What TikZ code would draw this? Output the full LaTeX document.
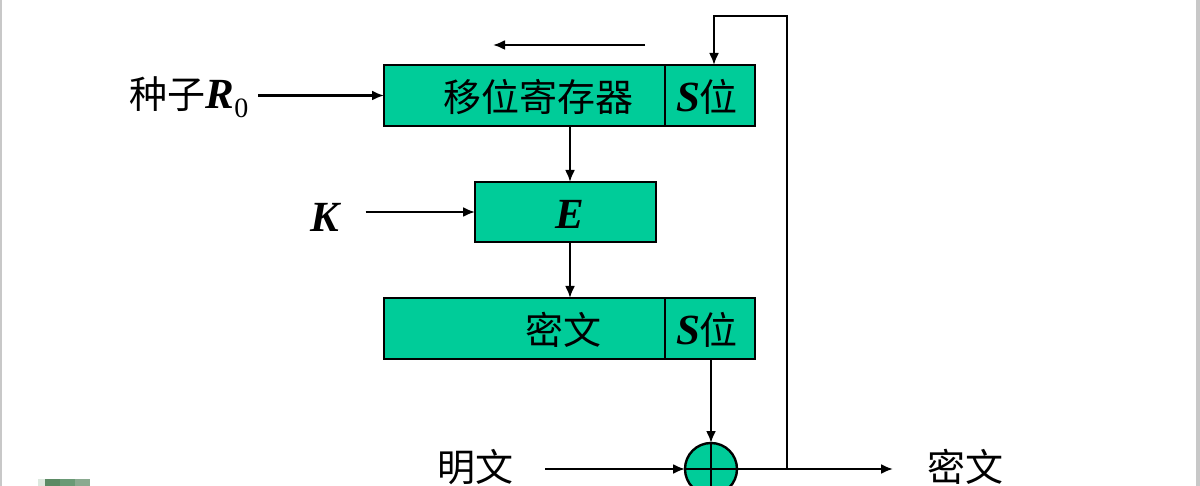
\documentclass[tikz,border=0pt]{standalone}
\usepackage{fontspec}
\setmainfont{Liberation Serif}
\newfontfamily\cjk{Noto Sans CJK SC}
\usetikzlibrary{arrows.meta}
\definecolor{boxgreen}{RGB}{0,204,153}
\definecolor{frameg}{RGB}{200,200,200}
\definecolor{blobA}{RGB}{91,138,100}
\definecolor{blobB}{RGB}{106,154,118}
\definecolor{blobC}{RGB}{138,170,144}
\definecolor{blobD}{RGB}{220,232,222}
\newcommand\latbi[1]{{\fontsize{43}{46}\selectfont\rmfamily\bfseries\itshape #1}}
\begin{document}
\begin{tikzpicture}[x=1pt,y=-1pt,
  box/.style={draw=black,line width=2.6pt,fill=boxgreen,minimum height=61pt,inner sep=0pt,outer sep=0pt},
  lbl/.style={font=\fontsize{38}{42}\selectfont\cjk,inner sep=0pt,outer sep=0pt},
  conn/.style={line width=2.2pt,-{Latex[length=12pt,width=10pt]}},
  wire/.style={line width=2.2pt}]
\useasboundingbox (0,0) rectangle (1200,486);
% screenshot frame
\fill[frameg] (0,0) rectangle (1.5,486);
\fill[frameg] (1196,0) rectangle (1200,486);
\fill[blobD] (38,479) rectangle (45,486);
\fill[blobA] (45,479) rectangle (60,486);
\fill[blobB] (60,479) rectangle (75,486);
\fill[blobC] (75,479) rectangle (90,486);
% boxes
\node[box,minimum width=281pt] (reg) at (524.5,95.5) {};
\node[box,minimum width=90pt] (regS) at (710,95.5) {};
\node[box,minimum width=181pt,minimum height=60pt] (E) at (565.5,212) {};
\node[box,minimum width=281pt] (ct) at (524.5,328.5) {};
\node[box,minimum width=90pt] (ctS) at (710,328.5) {};
\node[circle,draw=black,line width=2.4pt,fill=boxgreen,minimum size=52pt,inner sep=0pt,outer sep=0pt] (xor) at (711,469) {};
\draw[line width=2.4pt] (xor.north) -- (xor.south) (xor.west) -- (xor.east);
% texts
\node[lbl] (regtxt) at (538,97) {移位寄存器};
\node[lbl] (regStxt) at (707,97) {\latbi{S}位};
\node[inner sep=0pt] (Etxt) at (570,214) {\latbi{E}};
\node[lbl] (cttxt) at (563,330) {密文};
\node[lbl] (ctStxt) at (707,330) {\latbi{S}位};
\node[lbl] (seed) at (189,97) {种子\latbi{R}{\fontsize{28}{30}\selectfont\rmfamily\raisebox{-9pt}{0}}};
\node[inner sep=0pt] (K) at (325,217) {\latbi{K}};
\node[lbl] (pt) at (475,467) {明文};
\node[lbl] (out) at (965,467) {密文};
% connectors
\coordinate (shA) at (645,45);
\coordinate (shB) at (493,45);
\draw[conn] (shA) -- (shB);
\draw[conn,shorten <=10pt] (seed.east |- reg.west) -- (reg.west);
\draw[conn] ([xshift=4.5pt]E.north |- reg.south) -- ([xshift=4.5pt]E.north);
\draw[conn,shorten <=26pt] (K.east |- E.west) -- (E.west);
\draw[conn] ([xshift=4.5pt]E.south) -- ([xshift=4.5pt]E.south |- ct.north);
\draw[conn] (ctS.south -| xor.north) -- (xor.north);
\draw[conn,shorten <=32pt] (pt.east |- xor.west) -- (xor.west);
\draw[conn,shorten >=34pt] (xor.east) -- (xor.east -| out.west);
\coordinate (junc) at (787,469);
\coordinate (fbTop) at (787,16);
\draw[conn] (junc) -- (fbTop) -| ([xshift=4pt]regS.north);
\end{tikzpicture}
\end{document}
